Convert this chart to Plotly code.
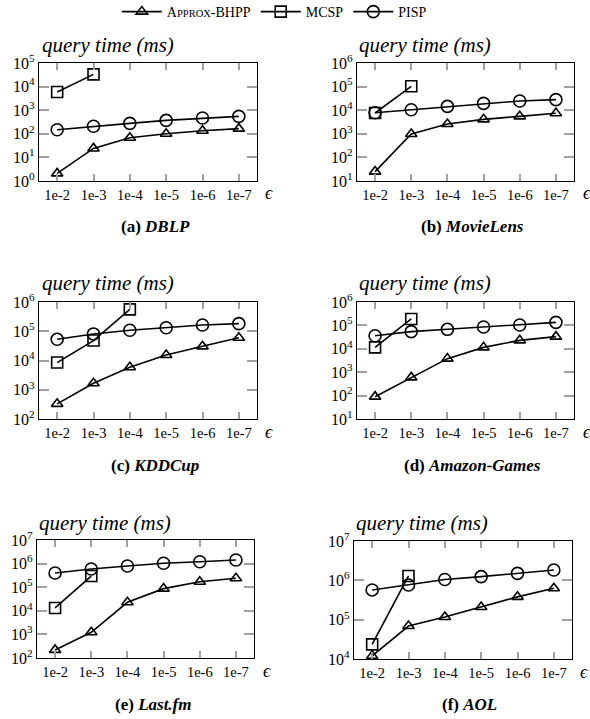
import plotly.graph_objects as go

# ---------------- data ----------------
eps = ["1e-2", "1e-3", "1e-4", "1e-5", "1e-6", "1e-7"]

dblp_approx = [2.1, 24, 68, 100, 135, 165]
dblp_mcsp = [5900, 33000]
dblp_pisp = [148, 208, 277, 370, 467, 550]

movielens_approx = [25, 980, 2600, 4100, 5500, 7400]
movielens_mcsp = [7600, 103000]
movielens_pisp = [7800, 10500, 14500, 19500, 24500, 28000]

kddcup_approx = [330, 1660, 5900, 15400, 30500, 60000]
kddcup_mcsp = [8500, 48000, 560000]
kddcup_pisp = [53000, 81000, 108000, 132000, 163000, 182000]

amazon_approx = [90, 600, 3800, 11500, 23000, 33000]
amazon_mcsp = [11500, 188000]
amazon_pisp = [36000, 54000, 68000, 85000, 104000, 135000]

lastfm_approx = [220, 1230, 23000, 87000, 171000, 238000]
lastfm_mcsp = [13200, 297000]
lastfm_pisp = [400000, 590000, 790000, 1030000, 1200000, 1420000]

aol_approx = [12000, 69000, 117000, 210000, 380000, 630000]
aol_mcsp = [23600, 1290000]
aol_pisp = [570000, 760000, 1050000, 1240000, 1500000, 1830000]

panel_labels = ["(a)", "(b)", "(c)", "(d)", "(e)", "(f)"]
dataset_names = ["DBLP", "MovieLens", "KDDCup", "Amazon-Games", "Last.fm", "AOL"]
y_decades = [(0, 5), (1, 6), (2, 6), (1, 6), (2, 7), (4, 7)]

# ---------------- layout helpers ----------------
W, H = 590, 719
# plot areas in pixels: x0, x1, y0(top), y1(bottom)
boxes = [
    (39, 257, 63, 181),
    (357, 574, 63, 181),
    (39, 257, 302, 419),
    (357, 574, 302, 419),
    (37, 254, 540, 658),
    (354, 572, 541, 659),
]
title_pos = [(40, 45), (357, 45), (40, 283), (357, 283), (37, 523), (354, 523)]
caption_pos = [(155, 227), (472, 227), (155, 465), (472, 465), (153, 704), (469, 704)]
eps_pos = [(269, 193), (587, 193), (269, 432), (587, 432), (267, 671), (584, 672)]

data = [
    (dblp_approx, dblp_mcsp, dblp_pisp),
    (movielens_approx, movielens_mcsp, movielens_pisp),
    (kddcup_approx, kddcup_mcsp, kddcup_pisp),
    (amazon_approx, amazon_mcsp, amazon_pisp),
    (lastfm_approx, lastfm_mcsp, lastfm_pisp),
    (aol_approx, aol_mcsp, aol_pisp),
]

FONT = "Liberation Serif"
legend_names = [
    "A<span style='font-size:10.5px'>PPROX</span>-BHPP",
    "MCSP",
    "PISP",
]
symbols = ["triangle-up-open", "square-open", "circle-open"]
msizes = [10, 11, 12]

fig = go.Figure()
layout = dict(
    template="none",
    width=W, height=H,
    margin=dict(l=0, r=0, t=0, b=0, autoexpand=False),
    paper_bgcolor="white", plot_bgcolor="white",
    font=dict(family=FONT, size=13, color="black"),
    showlegend=True,
    legend=dict(orientation="h", x=0.465, xanchor="center", y=1 - 12 / H, yanchor="middle",
                font=dict(family=FONT, size=14), itemwidth=40,
                tracegroupgap=0, bgcolor="rgba(0,0,0,0)", borderwidth=0),
)
annotations = []

for i, (box, series) in enumerate(zip(boxes, data)):
    x0, x1, y0, y1 = box
    xa = "xaxis" if i == 0 else f"xaxis{i+1}"
    ya = "yaxis" if i == 0 else f"yaxis{i+1}"
    xr = "x" if i == 0 else f"x{i+1}"
    yr = "y" if i == 0 else f"y{i+1}"
    lo, hi = y_decades[i]
    layout[xa] = dict(
        domain=[x0 / W, x1 / W], anchor=yr, type="category",
        categoryorder="array", categoryarray=eps, range=[-0.5, 5.5],
        showline=True, linecolor="black", linewidth=1.2, mirror="ticks",
        ticks="inside", ticklen=7, tickcolor="#a0a0a0", tickwidth=1.5,
        showgrid=False, zeroline=False, automargin=False,
        tickfont=dict(family=FONT, size=14.5),
    )
    tv = [10 ** k for k in range(lo, hi + 1)]
    tt = [f"10<sup>{k}</sup>" for k in range(lo, hi + 1)]
    layout[ya] = dict(
        domain=[1 - y1 / H, 1 - y0 / H], anchor=xr, type="log",
        range=[lo, hi], tickvals=tv, ticktext=tt,
        showline=True, linecolor="black", linewidth=1.2, mirror="ticks",
        ticks="inside", ticklen=10, tickcolor="#a0a0a0", tickwidth=1.5,
        showgrid=False, zeroline=False, automargin=False,
        tickfont=dict(family=FONT, size=16),
    )
    for j, ys in enumerate(series):
        fig.add_trace(go.Scatter(
            x=eps[:len(ys)], y=ys, xaxis=xr, yaxis=yr,
            mode="lines+markers", name=legend_names[j],
            showlegend=(i == 0), legendgroup=str(j),
            line=dict(color="black", width=1.6),
            marker=dict(symbol=symbols[j], size=msizes[j], color="black",
                        line=dict(width=1.6, color="black")),
            cliponaxis=False,
        ))
    tx, ty = title_pos[i]
    annotations.append(dict(
        text="<i>query time (ms)</i>", x=tx / W, y=1 - ty / H, xref="paper", yref="paper",
        xanchor="left", yanchor="middle", showarrow=False,
        font=dict(family=FONT, size=21)))
    cx, cy = caption_pos[i]
    annotations.append(dict(
        text=f"<b>{panel_labels[i]} <i>{dataset_names[i]}</i></b>", x=cx / W, y=1 - cy / H,
        xref="paper", yref="paper", xanchor="center", yanchor="middle", showarrow=False,
        font=dict(family=FONT, size=17)))
    ex, ey = eps_pos[i]
    annotations.append(dict(
        text="<i>ϵ</i>", x=ex / W, y=1 - ey / H, xref="paper", yref="paper",
        xanchor="center", yanchor="middle", showarrow=False,
        font=dict(family=FONT, size=18)))

layout["annotations"] = annotations
fig.update_layout(**layout)
fig.write_html("out.html", config={"displayModeBar": False},
               post_script="document.body.style.margin='0px';")
